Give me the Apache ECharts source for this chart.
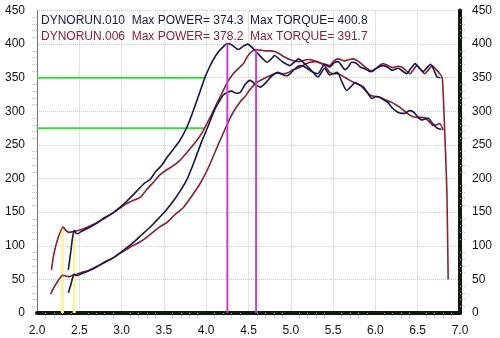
<!DOCTYPE html>
<html><head><meta charset="utf-8">
<script src="https://cdn.jsdelivr.net/npm/echarts@6/dist/echarts.min.js"></script>
<style>html,body{margin:0;padding:0;background:#fff}#c{width:500px;height:338px}</style>
</head><body><div id="c"></div>
<script>
// Tick labels
const xTicks = ['2.0','2.5','3.0','3.5','4.0','4.5','5.0','5.5','6.0','6.5','7.0'];
const yTicks = [0,50,100,150,200,250,300,350,400,450];
// Legend text
const run010 = 'DYNORUN.010  Max POWER= 374.3  Max TORQUE= 400.8';
const run006 = 'DYNORUN.006  Max POWER= 378.2  Max TORQUE= 391.7';

// RPM (x1000) / value pairs
const torque010 = [[2.37,64],[2.40,92],[2.42,112],[2.44,123],[2.46,119],[2.48,118],[2.52,121],[2.60,126],[2.70,133],[2.80,142],[2.90,149],[2.98,157],[3.05,165],[3.13,175],[3.20,184],[3.27,193],[3.34,199],[3.40,210],[3.47,219],[3.54,232],[3.62,245],[3.69,257],[3.77,276],[3.83,295],[3.89,316],[3.95,338],[3.99,352],[4.04,366],[4.08,376],[4.14,388],[4.20,396],[4.25,401],[4.30,399],[4.38,392],[4.44,397],[4.49,400],[4.55,394],[4.61,386],[4.67,378],[4.72,373],[4.77,378],[4.81,383],[4.86,378],[4.91,373],[4.99,368],[5.04,373],[5.09,378],[5.17,370],[5.25,360],[5.32,351],[5.40,364],[5.46,354],[5.55,358],[5.60,345],[5.66,331],[5.72,338],[5.76,343],[5.81,339],[5.86,336],[5.91,327],[5.96,319],[6.01,322],[6.05,321],[6.10,317],[6.15,313],[6.20,305],[6.26,299],[6.31,297],[6.35,297],[6.40,301],[6.45,299],[6.50,292],[6.55,287],[6.62,290],[6.67,283],[6.73,275],[6.78,273]];
const power010 = [[2.37,30],[2.40,42],[2.42,52],[2.44,58],[2.46,56],[2.48,56],[2.52,58],[2.60,62],[2.70,68],[2.80,76],[2.90,82],[2.98,89],[3.05,96],[3.13,104],[3.20,112],[3.27,120],[3.34,128],[3.40,136],[3.47,145],[3.54,155],[3.62,168],[3.69,181],[3.77,198],[3.83,216],[3.89,236],[3.95,256],[4.01,274],[4.06,290],[4.11,305],[4.16,316],[4.20,324],[4.25,328],[4.30,330],[4.35,327],[4.40,328],[4.46,340],[4.52,346],[4.58,340],[4.64,336],[4.70,342],[4.77,352],[4.85,358],[4.91,354],[4.96,353],[5.03,361],[5.09,367],[5.13,368],[5.19,364],[5.25,359],[5.32,356],[5.40,370],[5.46,366],[5.51,372],[5.56,374],[5.64,362],[5.68,366],[5.72,373],[5.77,372],[5.82,366],[5.88,363],[5.94,359],[6.01,364],[6.08,368],[6.14,366],[6.20,361],[6.27,364],[6.32,360],[6.37,356],[6.42,364],[6.47,371],[6.52,364],[6.56,359],[6.61,365],[6.65,370],[6.69,362],[6.73,351],[6.77,350]];
const torque006 = [[2.17,64],[2.20,88],[2.25,112],[2.31,128],[2.34,123],[2.38,120],[2.42,121],[2.46,122],[2.52,124],[2.60,128],[2.70,134],[2.80,141],[2.90,149],[2.98,156],[3.05,162],[3.13,167],[3.22,172],[3.30,184],[3.38,195],[3.45,205],[3.52,212],[3.60,218],[3.69,227],[3.78,240],[3.89,257],[3.95,268],[4.01,282],[4.07,297],[4.13,313],[4.19,328],[4.25,343],[4.32,356],[4.40,366],[4.44,371],[4.50,384],[4.55,390],[4.59,392],[4.64,391],[4.70,390],[4.75,390],[4.81,389],[4.86,386],[4.91,382],[5.01,376],[5.10,374],[5.20,377],[5.29,375],[5.35,372],[5.40,368],[5.46,358],[5.52,356],[5.56,356],[5.63,351],[5.70,346],[5.76,342],[5.82,339],[5.88,331],[5.94,324],[6.00,322],[6.05,321],[6.12,317],[6.20,313],[6.25,309],[6.29,306],[6.35,300],[6.41,294],[6.45,292],[6.49,291],[6.54,291],[6.59,290],[6.64,284],[6.68,279],[6.72,280],[6.76,282],[6.80,272]];
const power006 = [[2.16,28],[2.20,38],[2.25,48],[2.30,56],[2.34,55],[2.38,54],[2.42,56],[2.46,57],[2.52,60],[2.60,63],[2.70,69],[2.80,75],[2.90,82],[2.98,89],[3.05,94],[3.13,100],[3.22,106],[3.30,113],[3.38,121],[3.45,128],[3.54,135],[3.62,145],[3.73,157],[3.83,174],[3.93,193],[4.01,212],[4.08,232],[4.14,250],[4.20,267],[4.26,284],[4.32,299],[4.40,314],[4.46,322],[4.52,333],[4.58,341],[4.64,346],[4.70,350],[4.77,354],[4.83,357],[4.90,356],[4.96,357],[5.03,362],[5.10,365],[5.17,370],[5.23,373],[5.29,374],[5.35,372],[5.40,370],[5.46,368],[5.51,375],[5.56,378],[5.64,375],[5.69,377],[5.74,378],[5.79,375],[5.84,370],[5.90,364],[5.96,359],[6.02,365],[6.09,371],[6.15,368],[6.21,365],[6.26,367],[6.31,366],[6.36,361],[6.41,356],[6.45,362],[6.49,368],[6.54,362],[6.58,356],[6.63,362],[6.67,368],[6.72,362],[6.76,356],[6.79,350],[6.81,300],[6.83,235],[6.845,180],[6.855,100],[6.86,50]];

// Marker lines
const greenHigh = [[2.0,350],[3.99,350]];
const greenLow = [[2.0,275],[3.99,275]];
const magentaA = [[4.25,0],[4.25,401]];
const magentaB = [[4.59,0],[4.59,392]];
const yellowA = [[2.30,0],[2.30,128]];
const yellowB = [[2.44,0],[2.44,123]];

const NAVY = '#15154f', RED = '#8c2030';
const chart = echarts.init(document.getElementById('c'), null, {renderer:'canvas'});
const grid = {left:37, right:40, top:10.5, bottom:25};
function lineS(data, color, width, z){
  return {type:'line', data, showSymbol:false, symbol:'none', smooth:0.2,
    lineStyle:{color, width}, z, silent:true, animation:false};
}
const yAxisCommon = {type:'value', min:0, max:450, interval:50,
  axisLabel:{color:'#111', fontSize:12, fontFamily:'Liberation Sans', margin:12},
  minorTick:{show:true, splitNumber:5, length:5, lineStyle:{color:'#bbb', type:'dotted'}},
  axisTick:{show:false}};
chart.setOption({
  animation:false,
  backgroundColor:'#fff',
  title:[
    {text:run010, left:36, top:10, textStyle:{color:NAVY, fontSize:12, fontWeight:'normal', fontFamily:'Liberation Sans'}},
    {text:run006, left:36, top:26, textStyle:{color:RED, fontSize:12, fontWeight:'normal', fontFamily:'Liberation Sans'}}
  ],
  grid,
  xAxis:{type:'value', min:2, max:7, interval:0.5,
    axisLine:{lineStyle:{color:'#0d1a0d', width:4}},
    axisTick:{show:false},
    minorTick:{show:true, splitNumber:5, length:5, lineStyle:{color:'#bbb', type:'dotted'}},
    splitLine:{show:true, lineStyle:{color:'#c8c8c8', type:'dotted'}},
    axisLabel:{color:'#111', fontSize:12, fontFamily:'Liberation Sans', margin:12,
      formatter:(v)=>{const s=v.toFixed(1); return xTicks.includes(s)?s:'';}}},
  yAxis:[
    Object.assign({}, yAxisCommon, {position:'left',
      axisLine:{show:true, lineStyle:{color:'#777', width:1}},
      splitLine:{show:true, lineStyle:{color:'#c8c8c8', type:'dotted'}},
      axisLabel:Object.assign({}, yAxisCommon.axisLabel, {formatter:(v)=>yTicks.includes(v)?String(v):''})}),
    Object.assign({}, yAxisCommon, {position:'right',
      axisLine:{show:true, lineStyle:{color:'#0d1a0d', width:4}},
      splitLine:{show:false},
      axisLabel:Object.assign({}, yAxisCommon.axisLabel, {formatter:(v)=>yTicks.includes(v)?String(v):''})})
  ],
  series:[
    lineS(yellowA,'#f8f4a0',3,1), lineS(yellowB,'#f8f4a0',3,1),
    lineS(greenHigh,'#3ed83e',2,2), lineS(greenLow,'#3ed83e',2,2),
    lineS(torque006,RED,1.6,3), lineS(power006,RED,1.6,3),
    lineS(torque010,NAVY,1.6,4), lineS(power010,NAVY,1.6,4),
    lineS(magentaA,'#c93fcf',2,5), lineS(magentaB,'#c93fcf',2,5)
  ]
});
</script></body></html>
